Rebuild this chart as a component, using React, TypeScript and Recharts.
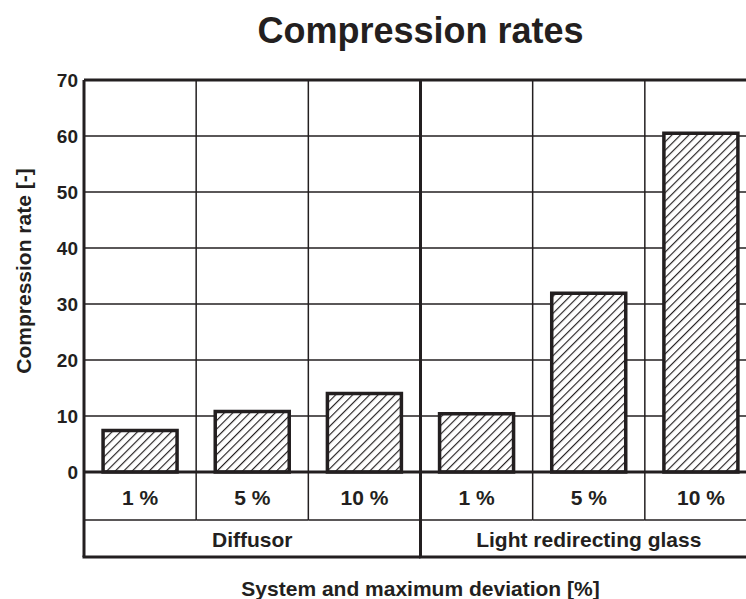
import React from 'react';
import { BarChart, Bar, XAxis, YAxis, CartesianGrid, ReferenceLine, Label } from 'recharts';

const deviations = ['1 %', '5 %', '10 %', '1 %', '5 %', '10 %'];
const systems = [
  'Diffusor',
  'Diffusor',
  'Diffusor',
  'Light redirecting glass',
  'Light redirecting glass',
  'Light redirecting glass',
];
const compressionRates = [7.4, 10.8, 14.0, 10.4, 31.9, 60.5];
const yTicks = [0, 10, 20, 30, 40, 50, 60, 70];

const data = deviations.map((deviation, i) => ({
  key: `${systems[i]} ${deviation}`,
  deviation,
  system: systems[i],
  rate: compressionRates[i],
}));

const INK = '#231f20';
const FONT = '"Liberation Sans", Arial, Helvetica, sans-serif';

// layout
const W = 770;
const H = 599;
const margin = { top: 80, right: 13, bottom: 42, left: 0 };
const Y_AXIS_W = 84;
const ROW1 = 48;
const ROW2 = 37;
const PLOT_LEFT = margin.left + Y_AXIS_W;
const PLOT_W = W - margin.left - margin.right - Y_AXIS_W;
const bandW = PLOT_W / deviations.length;
const groupW = PLOT_W / new Set(systems).size;

function ValueTick({ x, y, payload }: any) {
  return (
    <text x={x} y={y} dy="0.36em" textAnchor="end" fontFamily={FONT} fontWeight="bold" fontSize={19} fill={INK}>
      {payload.value}
    </text>
  );
}

function DeviationTick({ x, y, index }: any) {
  const left = x - bandW / 2;
  const right = x + bandW / 2;
  const groupEnd = index < systems.length - 1 && systems[index] !== systems[index + 1];
  return (
    <g>
      {index === 0 && <line x1={left} x2={left} y1={y} y2={y + ROW1} stroke={INK} strokeWidth={3} />}
      {!groupEnd && <line x1={right} x2={right} y1={y} y2={y + ROW1} stroke={INK} strokeWidth={1.5} />}
      <line x1={left} x2={right} y1={y + ROW1} y2={y + ROW1} stroke={INK} strokeWidth={1.5} />
      <text x={x} y={y + 33} textAnchor="middle" fontFamily={FONT} fontWeight="bold" fontSize={21} fill={INK}>
        {deviations[index]}
      </text>
    </g>
  );
}

function SystemTick({ x, y, payload, index }: any) {
  const left = x - groupW / 2;
  const right = x + groupW / 2;
  return (
    <g>
      <line x1={left} x2={left} y1={index === 0 ? y : y - ROW1} y2={y + ROW2} stroke={INK} strokeWidth={3} />
      <line x1={left - 1.5} x2={right} y1={y + ROW2} y2={y + ROW2} stroke={INK} strokeWidth={3} />
      <text x={x} y={y + 27} textAnchor="middle" fontFamily={FONT} fontWeight="bold" fontSize={21} fill={INK}>
        {payload.value}
      </text>
    </g>
  );
}

export default function App() {
  return (
    <div
      style={{
        position: 'absolute',
        left: 0,
        top: 0,
        width: 746,
        height: 599,
        overflow: 'hidden',
        background: '#fff',
        fontFamily: FONT,
      }}
    >
      <div
        style={{
          position: 'absolute',
          left: 0,
          top: 13,
          width: PLOT_LEFT * 2 + PLOT_W,
          textAlign: 'center',
          fontSize: 36,
          lineHeight: '36px',
          fontWeight: 'bold',
          color: INK,
        }}
      >
        Compression rates
      </div>
      <BarChart width={W} height={H} data={data} margin={margin} barCategoryGap="17%">
        <defs>
          <pattern id="hatch" patternUnits="userSpaceOnUse" width={6} height={6} patternTransform="rotate(45)">
            <rect width={6} height={6} fill="#fff" />
            <line x1={0} y1={0} x2={0} y2={6} stroke={INK} strokeWidth={2.3} />
          </pattern>
        </defs>
        <CartesianGrid
          xAxisId="cat"
          stroke={INK}
          strokeWidth={1.5}
          verticalCoordinatesGenerator={({ offset }: any) =>
            deviations.map((_, i) => offset.left + (i * offset.width) / deviations.length)
          }
        />
        <XAxis
          xAxisId="cat"
          dataKey="key"
          height={ROW1}
          interval={0}
          axisLine={false}
          tickLine={false}
          tickSize={0}
          tickMargin={0}
          tick={<DeviationTick />}
        />
        <XAxis
          xAxisId="grp"
          dataKey="system"
          allowDuplicatedCategory={false}
          height={ROW2}
          interval={0}
          axisLine={false}
          tickLine={false}
          tickSize={0}
          tickMargin={0}
          tick={<SystemTick />}
        >
          <Label
            content={() => (
              <text
                x={PLOT_LEFT + PLOT_W / 2}
                y={596}
                textAnchor="middle"
                fontFamily={FONT}
                fontWeight="bold"
                fontSize={21}
                fill={INK}
              >
                System and maximum deviation [%]
              </text>
            )}
          />
        </XAxis>
        <YAxis
          width={Y_AXIS_W}
          domain={[0, 70]}
          ticks={yTicks}
          interval={0}
          tickLine={false}
          tickSize={0}
          tickMargin={6}
          axisLine={{ stroke: INK, strokeWidth: 3 }}
          tick={<ValueTick />}
        >
          <Label
            content={() => (
              <text
                transform="translate(31 271) rotate(-90)"
                textAnchor="middle"
                fontFamily={FONT}
                fontWeight="bold"
                fontSize={21}
                fill={INK}
              >
                Compression rate [-]
              </text>
            )}
          />
        </YAxis>
        <Bar
          xAxisId="cat"
          dataKey="rate"
          fill="url(#hatch)"
          stroke={INK}
          strokeWidth={3.5}
          isAnimationActive={false}
        />
        <ReferenceLine xAxisId="cat" y={70} stroke={INK} strokeWidth={3} />
        <ReferenceLine xAxisId="cat" y={0} stroke={INK} strokeWidth={3} />
        <ReferenceLine xAxisId="cat" x={data[3].key} position="start" stroke={INK} strokeWidth={3} />
      </BarChart>
    </div>
  );
}
